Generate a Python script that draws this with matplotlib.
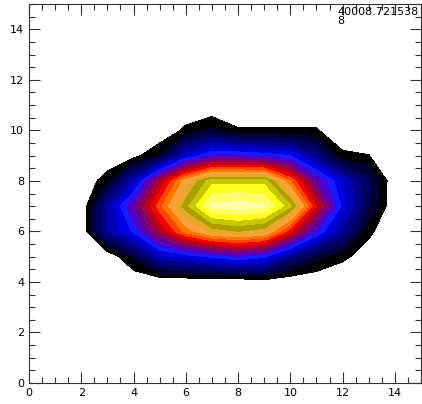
import numpy as np
import matplotlib
matplotlib.use("Agg")
import matplotlib.pyplot as plt
from matplotlib.ticker import MultipleLocator

# ---------------- Data (grid values) ---------------- #
x_grid = np.arange(0, 15)
y_grid = np.arange(0, 15)

# rows y = 4 .. 10, columns x = 2 .. 14 ; everything else is zero
rows = {
    4:  [0, 0, 0, 0, 0, 0, 0, 2, 0, 0, 0, 0, 0],
    5:  [0, 0, 11, 28, 32, 36, 40, 36, 22, 12, 6.3, 2, 0],
    6:  [0, 25, 36, 55, 72, 82, 85, 82, 62, 40, 24, 6.3, 0],
    7:  [0, 25, 45, 68, 88, 106, 108, 106, 91, 60, 33, 15, 0],
    8:  [0, 8.3, 27, 55, 78, 93, 93, 93, 70, 45, 30, 16.7, 0],
    9:  [0, 0, 3, 10, 30, 40, 40, 38, 35, 22, 6.3, 5.2, 0],
    10: [0, 0, 0, 0, 6.3, 11, 5.6, 5.6, 5.6, 5.6, 0, 0, 0],
}

levels = np.arange(5, 111, 5)
band_colors = [
    (0, 0, 0), (0, 0, 55), (0, 0, 95), (0, 0, 135), (0, 0, 180),
    (0, 0, 225), (25, 25, 255), (80, 0, 200), (110, 0, 140), (150, 0, 80),
    (190, 0, 20), (240, 0, 0), (255, 70, 0), (255, 120, 0), (255, 160, 60),
    (230, 170, 40), (170, 160, 0), (200, 200, 0), (255, 255, 30), (255, 255, 110),
    (255, 255, 170),
]

label_text = "40008.721538\n8"

# ---------------- Build grid ---------------- #
z = np.zeros((len(y_grid), len(x_grid)))
for yy, vals in rows.items():
    z[yy, 2:2 + len(vals)] = vals

colors = [(r / 255, g / 255, b / 255) for r, g, b in band_colors]

# ---------------- Plot ---------------- #
fig = plt.figure(figsize=(4.22, 4.04), dpi=100)
ax = fig.add_axes([29 / 422, 21 / 404, 392 / 422, 379 / 404])
ax.contourf(x_grid, y_grid, z, levels=levels, colors=colors, antialiased=False)

ax.set_xlim(0, 15)
ax.set_ylim(0, 15)
ax.xaxis.set_major_locator(MultipleLocator(2))
ax.yaxis.set_major_locator(MultipleLocator(2))
ax.xaxis.set_minor_locator(MultipleLocator(0.5))
ax.yaxis.set_minor_locator(MultipleLocator(0.5))
ax.tick_params(which='both', direction='in', top=True, right=True,
               labelsize=8, width=0.8, color='#333333')
ax.tick_params(which='major', length=8)
ax.tick_params(which='minor', length=4)
for sp in ax.spines.values():
    sp.set_color('#333333')
    sp.set_linewidth(0.8)

fig.text(337 / 422, 1 - 7 / 404, label_text, ha='left', va='top',
         fontsize=8, linespacing=0.9)

fig.savefig("out.png", dpi=100)
